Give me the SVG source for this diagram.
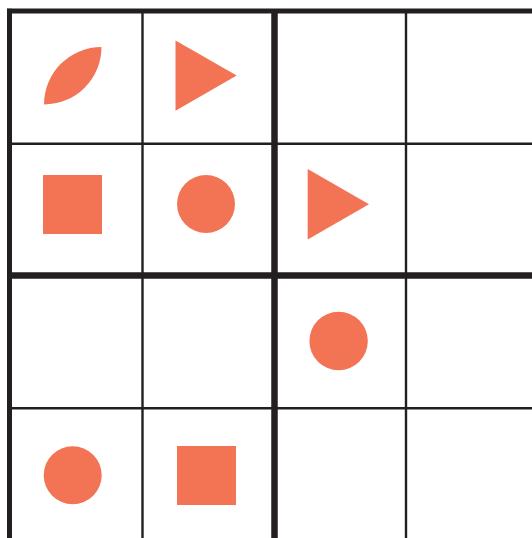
<svg xmlns="http://www.w3.org/2000/svg" width="532" height="538" viewBox="0 0 532 538">
<style>
.thin{stroke:#231F20;stroke-width:2.4;fill:none}
.thick{stroke:#231F20;stroke-width:5;fill:none}
.mid{stroke:#231F20;stroke-width:6.5;fill:none}
.shape{fill:#F37355}
</style>
<rect width="532" height="538" fill="#fff"/>
<g id="grid">
<line class="thin" x1="142.5" y1="10" x2="142.5" y2="538"/>
<line class="thin" x1="406" y1="10" x2="406" y2="538"/>
<line class="thin" x1="7" y1="143.7" x2="532" y2="143.7"/>
<line class="thin" x1="7" y1="408.2" x2="532" y2="408.2"/>
<line class="mid" x1="274.5" y1="9" x2="274.5" y2="538"/>
<line class="mid" x1="7" y1="275.5" x2="532" y2="275.5"/>
<line class="thick" x1="9.5" y1="8.7" x2="9.5" y2="538"/>
<line class="thick" x1="7" y1="11" x2="532" y2="11"/>
</g>
<g id="leaf"><path class="shape" d="M44,104.5 A57.5,57.5 0 0 1 101.5,47 A57.5,57.5 0 0 1 44,104.5 Z"/></g>
<g id="triangle1"><polygon class="shape" points="175.5,40.5 236.7,75.6 175.5,110.7"/></g>
<g id="square1"><rect class="shape" x="43" y="175" width="59" height="59"/></g>
<g id="circle1"><circle class="shape" cx="206" cy="204" r="29"/></g>
<g id="triangle2"><polygon class="shape" points="307.7,169 369,204.3 307.7,239.5"/></g>
<g id="circle2"><circle class="shape" cx="338.6" cy="341" r="29.2"/></g>
<g id="circle3"><circle class="shape" cx="72.7" cy="475.2" r="29"/></g>
<g id="square2"><rect class="shape" x="177" y="446" width="59" height="59"/></g>
</svg>
